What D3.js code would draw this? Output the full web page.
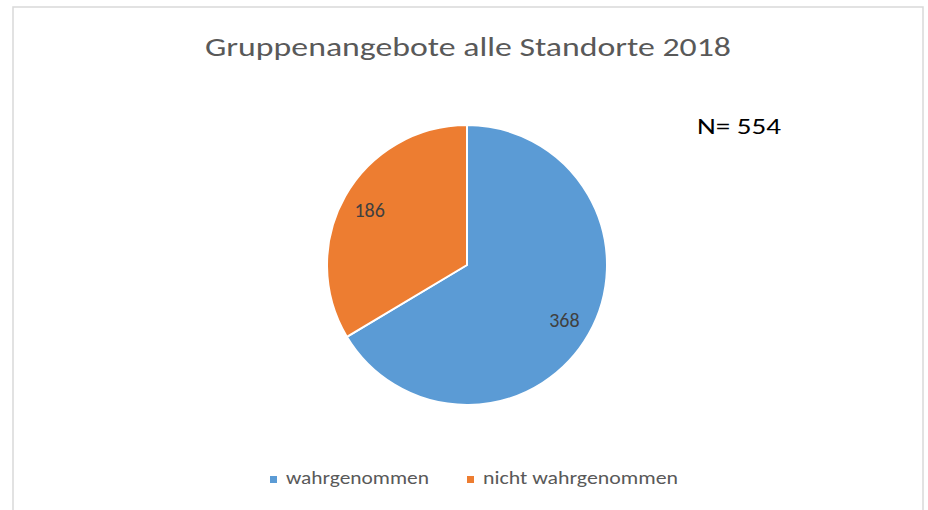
<!DOCTYPE html>
<html>
<head>
<meta charset="utf-8">
<script src="https://cdn.jsdelivr.net/npm/d3@7"></script>
<style>
  body { margin: 0; background: #fff; }
  text { font-family: Carlito, Calibri, "Open Sans", sans-serif; }
</style>
</head>
<body>
<script>
// Gruppenangebote pie
var categories = ["wahrgenommen", "nicht wahrgenommen"];
var values = [368, 186];
var colors = ["#5B9BD5", "#ED7D31"];
var title = "Gruppenangebote alle Standorte 2018";
var note = "N= 554";

var width = 928, height = 510;
var cx = 467, cy = 265, radius = 140;

var svg = d3.select("body").append("svg")
    .attr("width", width).attr("height", height);

// frame
svg.append("rect")
    .attr("x", 13).attr("y", 7)
    .attr("width", 910).attr("height", 520)
    .attr("fill", "#fff")
    .attr("stroke", "#d9d9d9")
    .attr("stroke-width", 1.5);

svg.append("text")
    .attr("x", 468).attr("y", 56)
    .attr("text-anchor", "middle")
    .attr("font-size", 27)
    .attr("fill", "#595959")
    .attr("textLength", 526)
    .attr("lengthAdjust", "spacingAndGlyphs")
    .text(title);

svg.append("text")
    .attr("x", 697).attr("y", 134)
    .attr("font-size", 23)
    .attr("fill", "#000")
    .attr("textLength", 84)
    .attr("lengthAdjust", "spacingAndGlyphs")
    .text(note);

var pie = d3.pie().sort(null);
var arcs = pie(values);

var arc = d3.arc().innerRadius(0).outerRadius(radius);
var labelArc = d3.arc().innerRadius(radius * 0.8).outerRadius(radius * 0.8);

var g = svg.append("g").attr("transform", "translate(" + cx + "," + cy + ")");

g.selectAll("path")
    .data(arcs)
    .enter().append("path")
    .attr("d", arc)
    .attr("fill", (d, i) => colors[i])
    .attr("stroke", "#fff")
    .attr("stroke-width", 2)
    .attr("stroke-linejoin", "round");

g.selectAll("text.lbl")
    .data(arcs)
    .enter().append("text")
    .attr("class", "lbl")
    .attr("transform", d => "translate(" + labelArc.centroid(d) + ")")
    .attr("text-anchor", "middle")
    .attr("dy", "0.35em")
    .attr("font-size", 20)
    .attr("fill", "#404040")
    .text(d => d.data);

// legend
var legendX = [270, 467];
var legend = svg.selectAll("g.legend")
    .data(categories)
    .enter().append("g")
    .attr("class", "legend")
    .attr("transform", (d, i) => "translate(" + legendX[i] + ",477)");

legend.append("rect")
    .attr("x", 0).attr("y", -1)
    .attr("width", 7).attr("height", 7)
    .attr("fill", (d, i) => colors[i]);

legend.append("text")
    .attr("x", 16).attr("y", 7)
    .attr("font-size", 19)
    .attr("fill", "#595959")
    .attr("textLength", (d, i) => i === 0 ? 143 : 195)
    .attr("lengthAdjust", "spacingAndGlyphs")
    .text(d => d);
</script>
</body>
</html>
